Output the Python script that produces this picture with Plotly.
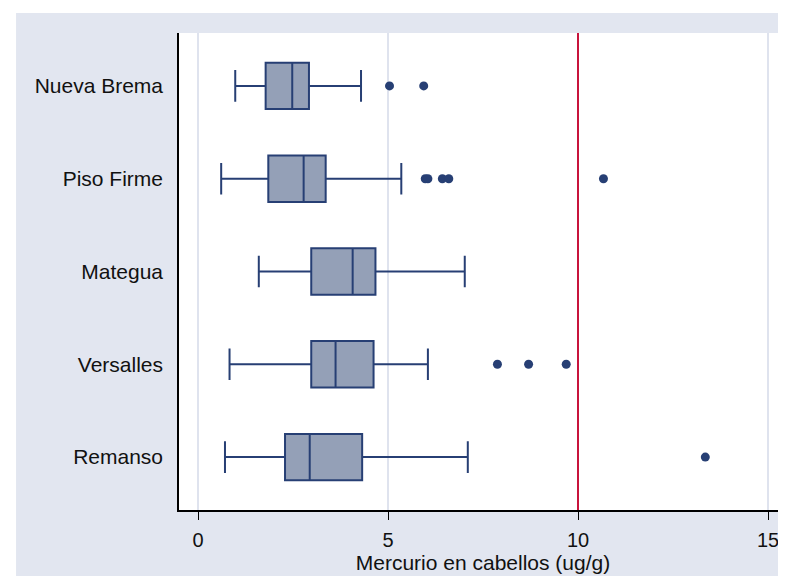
import plotly.graph_objects as go

# Categories listed bottom-to-top
categories = ["Remanso", "Versalles", "Mategua", "Piso Firme", "Nueva Brema"]
lower_whisker = [0.71, 0.83, 1.60, 0.61, 0.98]
q1_vals = [2.29, 2.98, 2.98, 1.85, 1.78]
median_vals = [2.94, 3.62, 4.07, 2.78, 2.48]
q3_vals = [4.32, 4.62, 4.67, 3.36, 2.92]
upper_whisker = [7.10, 6.05, 7.02, 5.35, 4.29]

outlier_cats = ["Remanso",
                "Versalles", "Versalles", "Versalles",
                "Piso Firme", "Piso Firme", "Piso Firme", "Piso Firme", "Piso Firme",
                "Nueva Brema", "Nueva Brema"]
outlier_vals = [13.35,
                7.88, 8.70, 9.69,
                5.98, 6.05, 6.43, 6.60, 10.67,
                5.04, 5.94]

reference_value = 10
x_ticks = [0, 5, 10, 15]
x_title = "Mercurio en cabellos (ug/g)"

navy = "#273f74"
box_fill = "#94a0b7"
bg = "#e2e6f0"
font_family = "Liberation Sans, Arial, sans-serif"

fig = go.Figure()
fig.add_trace(go.Box(
    y=categories, q1=q1_vals, median=median_vals, q3=q3_vals,
    lowerfence=lower_whisker, upperfence=upper_whisker,
    orientation="h", boxpoints=False,
    fillcolor=box_fill, line=dict(color=navy, width=2),
    width=0.5, whiskerwidth=0.68, showlegend=False, hoverinfo="skip",
))
fig.add_trace(go.Scatter(
    x=outlier_vals, y=outlier_cats, mode="markers",
    marker=dict(color=navy, size=9), showlegend=False, hoverinfo="skip",
))

# background panel with thin white strip at top/left
fig.add_shape(type="rect", xref="paper", yref="paper",
              x0=-0.268, x1=1.05, y0=-0.2, y1=1.042,
              fillcolor=bg, line=dict(width=0), layer="below")
fig.add_shape(type="rect", xref="paper", yref="paper",
              x0=0, x1=1, y0=0, y1=1,
              fillcolor="white", line=dict(width=0), layer="below")
fig.add_shape(type="line", xref="x", yref="paper",
              x0=reference_value, x1=reference_value, y0=0, y1=1,
              line=dict(color="#c8143c", width=2))

fig.update_layout(
    width=786, height=576,
    margin=dict(l=171, r=7, t=25, b=74),
    paper_bgcolor="white", plot_bgcolor="rgba(0,0,0,0)",
    font=dict(family=font_family, size=21, color="#111111"),
    xaxis=dict(
        range=[-0.5, 15.5], tickvals=x_ticks, ticktext=[str(v) for v in x_ticks],
        showgrid=True, gridcolor="#dfe3ee", gridwidth=1.5, zeroline=False,
        showline=True, linecolor="black", linewidth=1.5,
        ticks="outside", ticklen=8, tickcolor="black", tickwidth=1,
        ticklabelstandoff=3,
        tickfont=dict(size=20),
        title=dict(text=x_title, font=dict(size=21), standoff=0),
    ),
    yaxis=dict(
        type="category", categoryorder="array", categoryarray=categories,
        range=[-0.57, 4.57], showgrid=False, zeroline=False,
        showline=True, linecolor="black", linewidth=1.5,
        ticks="", ticklabelstandoff=10, tickfont=dict(size=21),
    ),
)

fig.write_html("out.html")
